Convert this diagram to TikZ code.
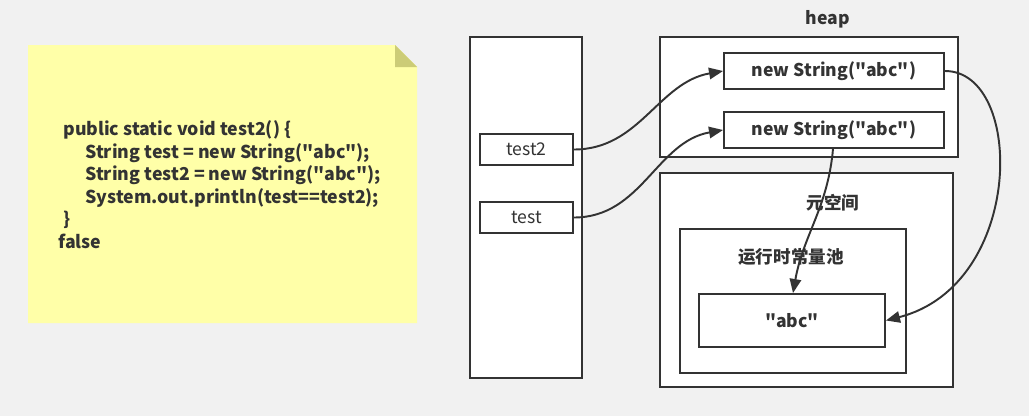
\documentclass[tikz,border=0pt]{standalone}
\usepackage{fontspec}
\setmainfont{Noto Sans CJK SC}[Ligatures=TeXOff]
\usetikzlibrary{arrows.meta, positioning}

\definecolor{bgcol}{HTML}{F1F1F1}
\definecolor{inkcol}{HTML}{333333}
\definecolor{notecol}{HTML}{FFFFA8}
\definecolor{foldcol}{HTML}{CCCC77}

\tikzset{
  box/.style={draw=inkcol, line width=1.1pt, fill=white},
  lbl/.style={text=inkcol, font=\fontsize{10pt}{12pt}\selectfont\bfseries, inner sep=0pt},
  cell/.style={box, minimum width=1.86cm, minimum height=0.62cm, inner sep=0pt,
    text=inkcol, font=\fontsize{10pt}{12pt}\selectfont},
  objbox/.style={box, minimum width=4.4cm, minimum height=0.72cm, inner sep=0pt,
    text=inkcol, font=\fontsize{10pt}{12pt}\selectfont\bfseries},
  ref/.style={draw=inkcol, line width=1.1pt, -{Triangle[length=8pt, width=6.5pt]}}
}

\begin{document}
\begin{tikzpicture}[x=0.02cm, y=-0.02cm]
  % 背景
  \fill[bgcol] (0,0) rectangle (1029,416);
  \useasboundingbox (0,0) rectangle (1029,416);

  % 付箋 (コード)
  \fill[notecol] (28,45) -- (395,45) -- (417,67) -- (417,323) -- (28,323) -- cycle;
  \fill[foldcol] (395,45) -- (395,67) -- (417,67) -- cycle;
  \node[lbl, anchor=west, align=left, font=\fontsize{10.1pt}{12.8pt}\selectfont\bfseries] (code) at (58,184.5)
    {\hspace*{0.1cm}public static void test2() \{\\
     \hspace*{0.54cm}String test = new String("abc");\\
     \hspace*{0.54cm}String test2 = new String("abc");\\
     \hspace*{0.54cm}System.out.println(test==test2);\\
     \hspace*{0.1cm}\}\\
     false};

  % スタック
  \draw[box] (470,37) rectangle (582,378);
  \node[cell] (test2) at (526.5,149.5) {test2};
  \node[cell] (test) at (526.5,217.5) {test};

  % ヒープ
  \node[lbl] (heaplbl) at (828,19) {heap};
  \draw[box] (660,37) rectangle (958,157);
  \node[objbox] (obj1) at (834,71) {new String("abc")};
  \node[objbox] (obj2) at (834,130) {new String("abc")};

  % メタスペース
  \draw[box] (660,173) rectangle (953,387);
  \node[lbl] (metalbl) at (833,203) {元空间};
  \draw[box] (680,229) rectangle (906,373);
  \node[lbl] (poollbl) at (791,257) {运行时常量池};
  \node[objbox, minimum width=3.72cm, minimum height=1.06cm] (abc) at (792,320.5) {"abc"};

  % 参照
  \draw[ref] (test2.east) to[out=0, in=190] (obj1.west);
  \draw[ref] (test.east) to[out=0, in=190] (obj2.west);
  \draw[ref] ([xshift=-0.02cm]obj2.south) to[out=-95, in=80] ([xshift=0.02cm]abc.north);
  \draw[ref] (obj1.east) .. controls (1025,71) and (1025,285) .. (abc.east);
\end{tikzpicture}
\end{document}
